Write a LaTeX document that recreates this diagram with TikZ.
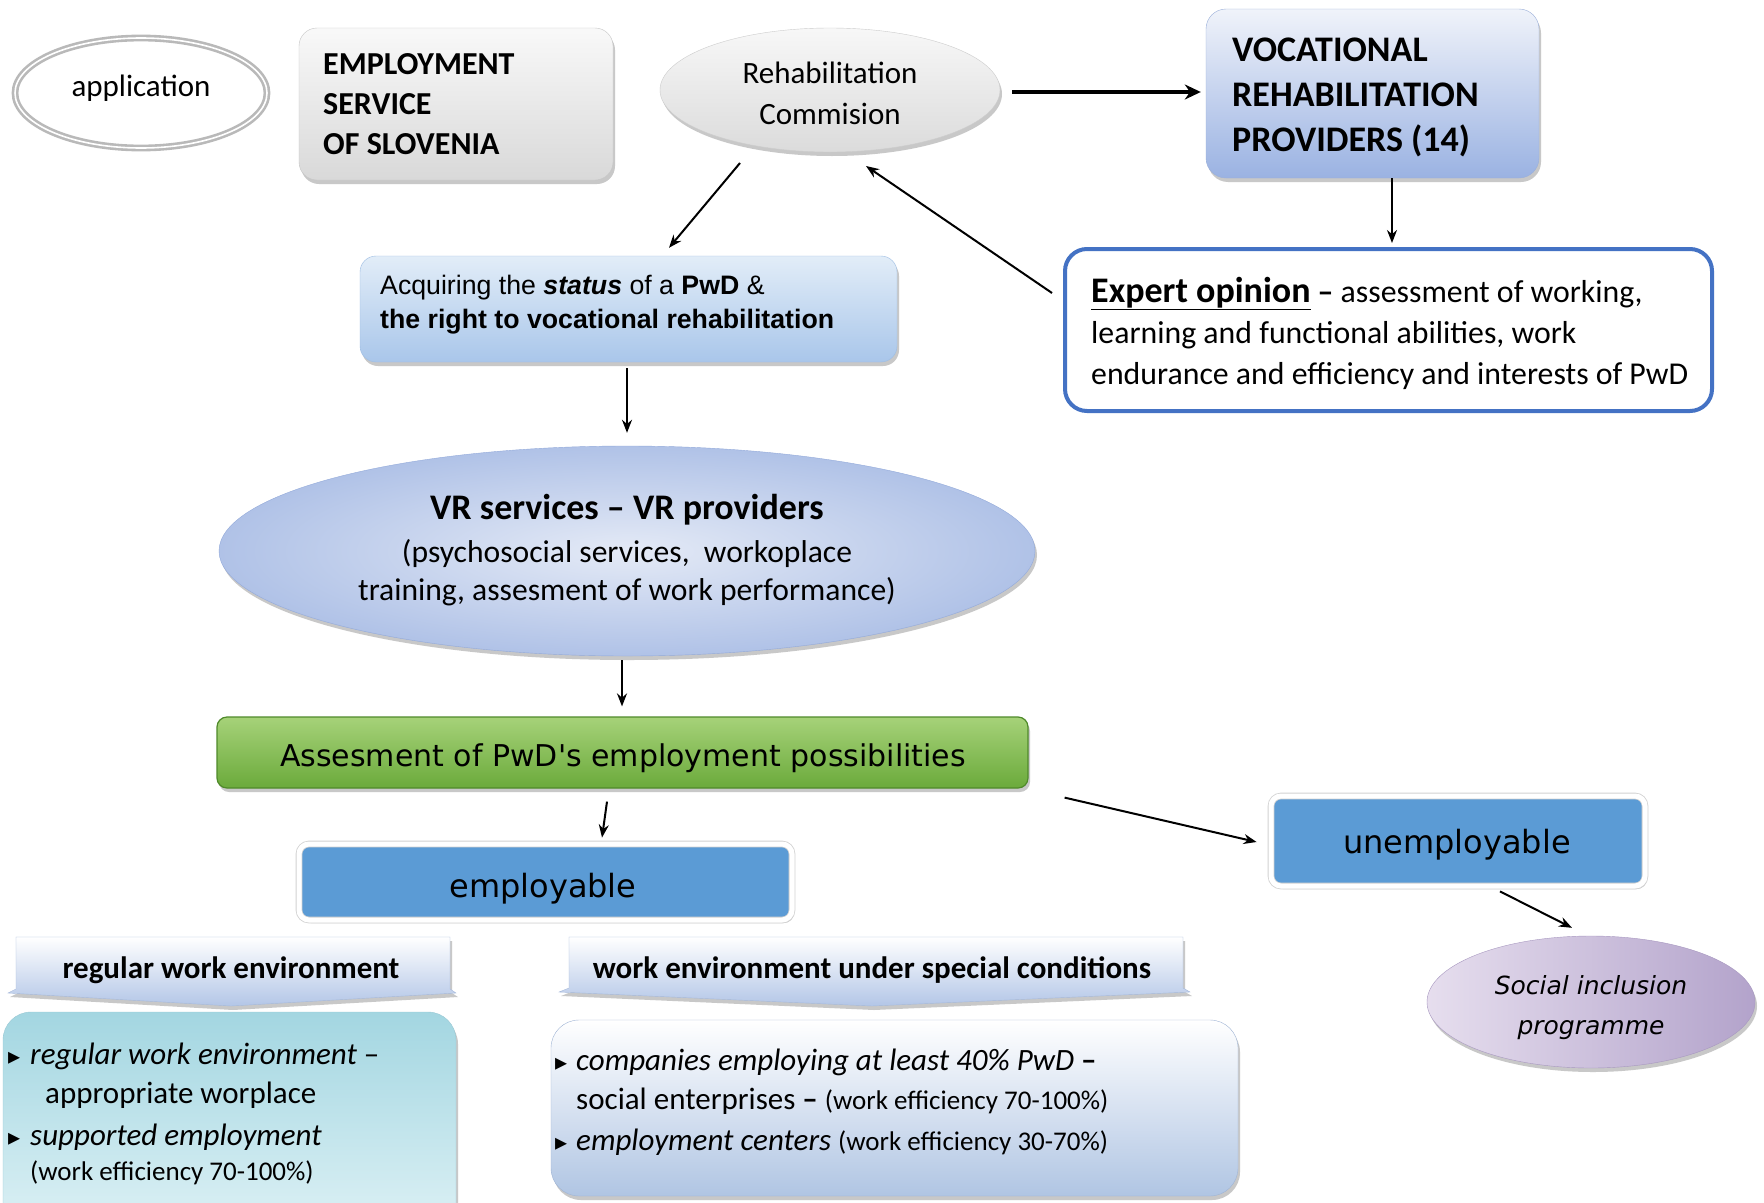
\documentclass[tikz,border=0pt]{standalone}
\usepackage{fontspec}
\setmainfont{Carlito}
\newfontfamily\arialf{Liberation Sans}
\newfontfamily\comicf{DejaVu Sans}
\usetikzlibrary{shapes.geometric,shadows,arrows.meta,fit,calc}
\definecolor{vocb}{HTML}{9BB0DA}
\definecolor{voctop}{HTML}{F0F3FA}
\definecolor{vocbot}{HTML}{9AB2E2}
\definecolor{expblue}{HTML}{4472C4}
\definecolor{acqtop}{HTML}{E2EDF8}
\definecolor{acqbot}{HTML}{A9C6EA}
\definecolor{acqb}{HTML}{9DBDE3}
\definecolor{vrin}{HTML}{E4EAF6}
\definecolor{vrout}{HTML}{B0C2E7}
\definecolor{vrb}{HTML}{93AADA}
\definecolor{grntop}{HTML}{A6D279}
\definecolor{grnbot}{HTML}{6BAA3B}
\definecolor{grnb}{HTML}{4F8A2A}
\definecolor{empblue}{HTML}{5B9BD5}
\definecolor{soc1}{HTML}{E6DEEE}
\definecolor{soc2}{HTML}{B3A3CB}
\definecolor{socb}{HTML}{A898C0}
\definecolor{envbot}{HTML}{B3C6E7}
\definecolor{envb}{HTML}{A6B9DA}
\definecolor{regtop}{HTML}{A3D6E1}
\definecolor{regbot}{HTML}{DDF1F5}
\definecolor{regb}{HTML}{9AC9D5}
\definecolor{spbot}{HTML}{B0C5E3}
\definecolor{spb}{HTML}{A0B5D5}
\newcommand\bulmark{{\comicf\fontsize{24}{24}\selectfont ▸}}
\begin{document}
\begin{tikzpicture}[x=1pt,y=-1pt,
  arr/.style={-{Stealth[length=13pt,width=10pt]}, line width=2pt},
  bigarr/.style={-{Stealth[length=16pt,width=15pt]}, line width=4.5pt},
  shad/.style={drop shadow={shadow xshift=2pt,shadow yshift=-4pt,opacity=0.3,fill=black!70}},
  fitbox/.style={inner sep=0pt, rectangle},
  txt/.style={inner sep=0pt},
  empbox/.style={fitbox, rounded corners=10pt, draw=gray!35, double=white, double distance=5pt,
    line width=0.8pt, fill=empblue, drop shadow={shadow xshift=2pt,shadow yshift=-3pt,opacity=0.35,fill=black!60}},
  ]
\useasboundingbox (0,0) rectangle (1764,1202);
\clip (0,0) rectangle (1764,1202);
\fill[white] (0,0) rectangle (1764,1202);

% top row
\node[ellipse, draw=gray!55, line width=2.6pt, double=white, double distance=1.6pt,
  minimum width=252pt, minimum height=110pt, inner sep=0pt] (app) at (141,93) {};
\node[txt, font=\fontsize{31}{36}\selectfont] (appt) at (141,88) {application};

\node[fitbox, fit={(299,28) (613,180)}, rounded corners=18pt, draw=gray!45,
  top color=gray!5, bottom color=gray!30, shad] (esos) {};
\node[txt, anchor=west, align=left, font=\fontsize{32}{40}\selectfont\bfseries] (esost) at (323,104)
  {EMPLOYMENT\\SERVICE\\OF SLOVENIA};

\node[ellipse, minimum width=340pt, minimum height=124pt, inner sep=0pt, draw=gray!40,
  top color=gray!6, bottom color=gray!28, shad] (rc) at (830,90) {};
\node[txt, align=center, font=\fontsize{31}{41}\selectfont] (rct) at (830,93) {Rehabilitation\\Commision};

\node[fitbox, fit={(1206,9) (1539,178)}, rounded corners=20pt, draw=vocb,
  top color=voctop, bottom color=vocbot, shad] (voc) {};
\node[txt, anchor=west, align=left, font=\fontsize{36}{45}\selectfont\bfseries] (voct) at (1232,97)
  {VOCATIONAL\\REHABILITATION\\PROVIDERS (14)};

\node[fitbox, fit={(1065,249) (1712,411)}, rounded corners=22pt, draw=expblue,
  line width=4pt, fill=white] (exp) {};
\node[txt, anchor=west, align=left, font=\fontsize{31.8}{41}\selectfont] (expt) at (1091,333)
  {{\fontsize{36}{41}\selectfont\bfseries\underline{Expert opinion}} \textbf{–} assessment of working,\\
   learning and functional abilities, work\\
   endurance and efficiency and interests of PwD};

\node[fitbox, fit={(360,256) (897,362)}, rounded corners=16pt, draw=acqb,
  top color=acqtop, bottom color=acqbot, shad] (acq) {};
\node[txt, anchor=west, align=left, font=\arialf\fontsize{26.7}{34}\selectfont] (acqt) at (380,305)
  {Acquiring the \textbf{\textit{status}} of a \textbf{PwD} \&\\
   \textbf{the right to vocational rehabilitation}};

\node[ellipse, minimum width=816pt, minimum height=210pt, inner sep=0pt, draw=vrb,
  inner color=vrin, outer color=vrout, shad] (vr) at (627,551) {};
\node[txt, align=center, font=\fontsize{31.6}{38}\selectfont] (vrt) at (627,550)
  {{\fontsize{36}{44}\selectfont\bfseries VR services – VR providers}\\[5pt]
   (psychosocial services,\ \ workoplace\\
   training, assesment of work performance)};

\node[fitbox, fit={(217,717) (1028,788)}, rounded corners=10pt, draw=grnb, line width=1.2pt,
  top color=grntop, bottom color=grnbot, shad] (grn) {};
\node[txt, font=\comicf\fontsize{30}{34}\selectfont] (grnt) at (623,758) {Assesment of PwD's employment possibilities};

\node[empbox, fit={(299,844) (792,920)}] (emp) {};
\node[txt, font=\comicf\fontsize{32}{38}\selectfont] (empt) at (543,889) {employable};

\node[empbox, fit={(1271,796) (1645,886)}] (unemp) {};
\node[txt, font=\comicf\fontsize{32}{38}\selectfont] (unempt) at (1457,845) {unemployable};

\node[ellipse, minimum width=328pt, minimum height=132pt, inner sep=0pt, draw=socb,
  left color=soc1, right color=soc2, shad] (soc) at (1591,1002) {};
\node[txt, align=center, font=\comicf\itshape\fontsize{25}{40}\selectfont] (soct) at (1591,1008) {Social inclusion\\programme};

% environment headers
\path[draw=envb, top color=white, bottom color=envbot, shad]
  (16,937) -- (450,937) -- (450,989) -- (456,993) -- (231,1006) -- (8,993) -- (16,989) -- cycle;
\node[txt, font=\fontsize{31}{36}\selectfont\bfseries] (regt) at (231,970) {regular work environment};

\path[draw=envb, top color=white, bottom color=envbot, shad]
  (569,937) -- (1183,937) -- (1183,988) -- (1190,992) -- (872,1006) -- (559,992) -- (569,988) -- cycle;
\node[txt, font=\fontsize{31}{36}\selectfont\bfseries] (spt) at (872,970) {work environment under special conditions};

% content boxes
\node[fitbox, fit={(3,1012) (456,1232)}, rounded corners=28pt, draw=regb,
  top color=regtop, bottom color=regbot, shad] (regc) {};
\node[fitbox, fit={(551,1020) (1238,1196)}, rounded corners=28pt, draw=spb,
  top color=white, bottom color=spbot, shad] (spc) {};

\node[txt, anchor=base west] (rb1) at (8,1064) {\bulmark};
\node[txt, anchor=base west, font=\fontsize{31}{36}\selectfont] (r1) at (30,1064) {\textit{regular work environment} –};
\node[txt, anchor=base west, font=\fontsize{31}{36}\selectfont] (r2) at (45,1103) {appropriate worplace};
\node[txt, anchor=base west] (rb2) at (8,1145) {\bulmark};
\node[txt, anchor=base west, font=\fontsize{31}{36}\selectfont] (r3) at (30,1145) {\textit{supported employment}};
\node[txt, anchor=base west, font=\fontsize{27}{32}\selectfont] (r4) at (30,1180) {(work efficiency 70-100\%)};

\node[txt, anchor=base west] (sb1) at (555,1070) {\bulmark};
\node[txt, anchor=base west, font=\fontsize{31}{36}\selectfont] (s1) at (576,1070) {\textit{companies employing at least 40\% PwD} \textbf{–}};
\node[txt, anchor=base west, font=\fontsize{31}{36}\selectfont] (s2) at (576,1109) {social enterprises \textbf{–} {\fontsize{27}{32}\selectfont (work efficiency 70-100\%)}};
\node[txt, anchor=base west] (sb2) at (555,1150) {\bulmark};
\node[txt, anchor=base west, font=\fontsize{31}{36}\selectfont] (s3) at (576,1150) {\textit{employment centers} {\fontsize{27}{32}\selectfont (work efficiency 30-70\%)}};

% connectors
\draw[bigarr] ($(rc.east)+(12,2)$) -- ($(voc.west)+(-5,-1.5)$);
\draw[arr] ($(voc.south)+(19.5,0)$) -- ($(exp.north)+(3.5,-4)$);
\draw[arr] ($(exp.west)+(-11,-37)$) -- ($(rc.center)+(36,76)$);
\draw[arr] ($(rc.center)+(-90,73)$) -- ($(acq.north)+(40.5,-8)$);
\draw[arr] ($(acq.south)+(-1.5,6)$) -- ($(vr.north)+(0,-13)$);
\draw[arr] ($(vr.south)+(-5,4)$) -- ($(grn.north)+(-0.5,-10)$);
\draw[arr] ($(grn.south)+(-15.5,13)$) -- ($(emp.north)+(56.5,-6)$);
\draw[arr] ($(grn.south east)+(36,9)$) -- ($(unemp.west)+(-14,1)$);
\draw[arr] ($(unemp.south)+(42,5)$) -- ($(soc.north)+(-19,-8)$);
\end{tikzpicture}
\end{document}
